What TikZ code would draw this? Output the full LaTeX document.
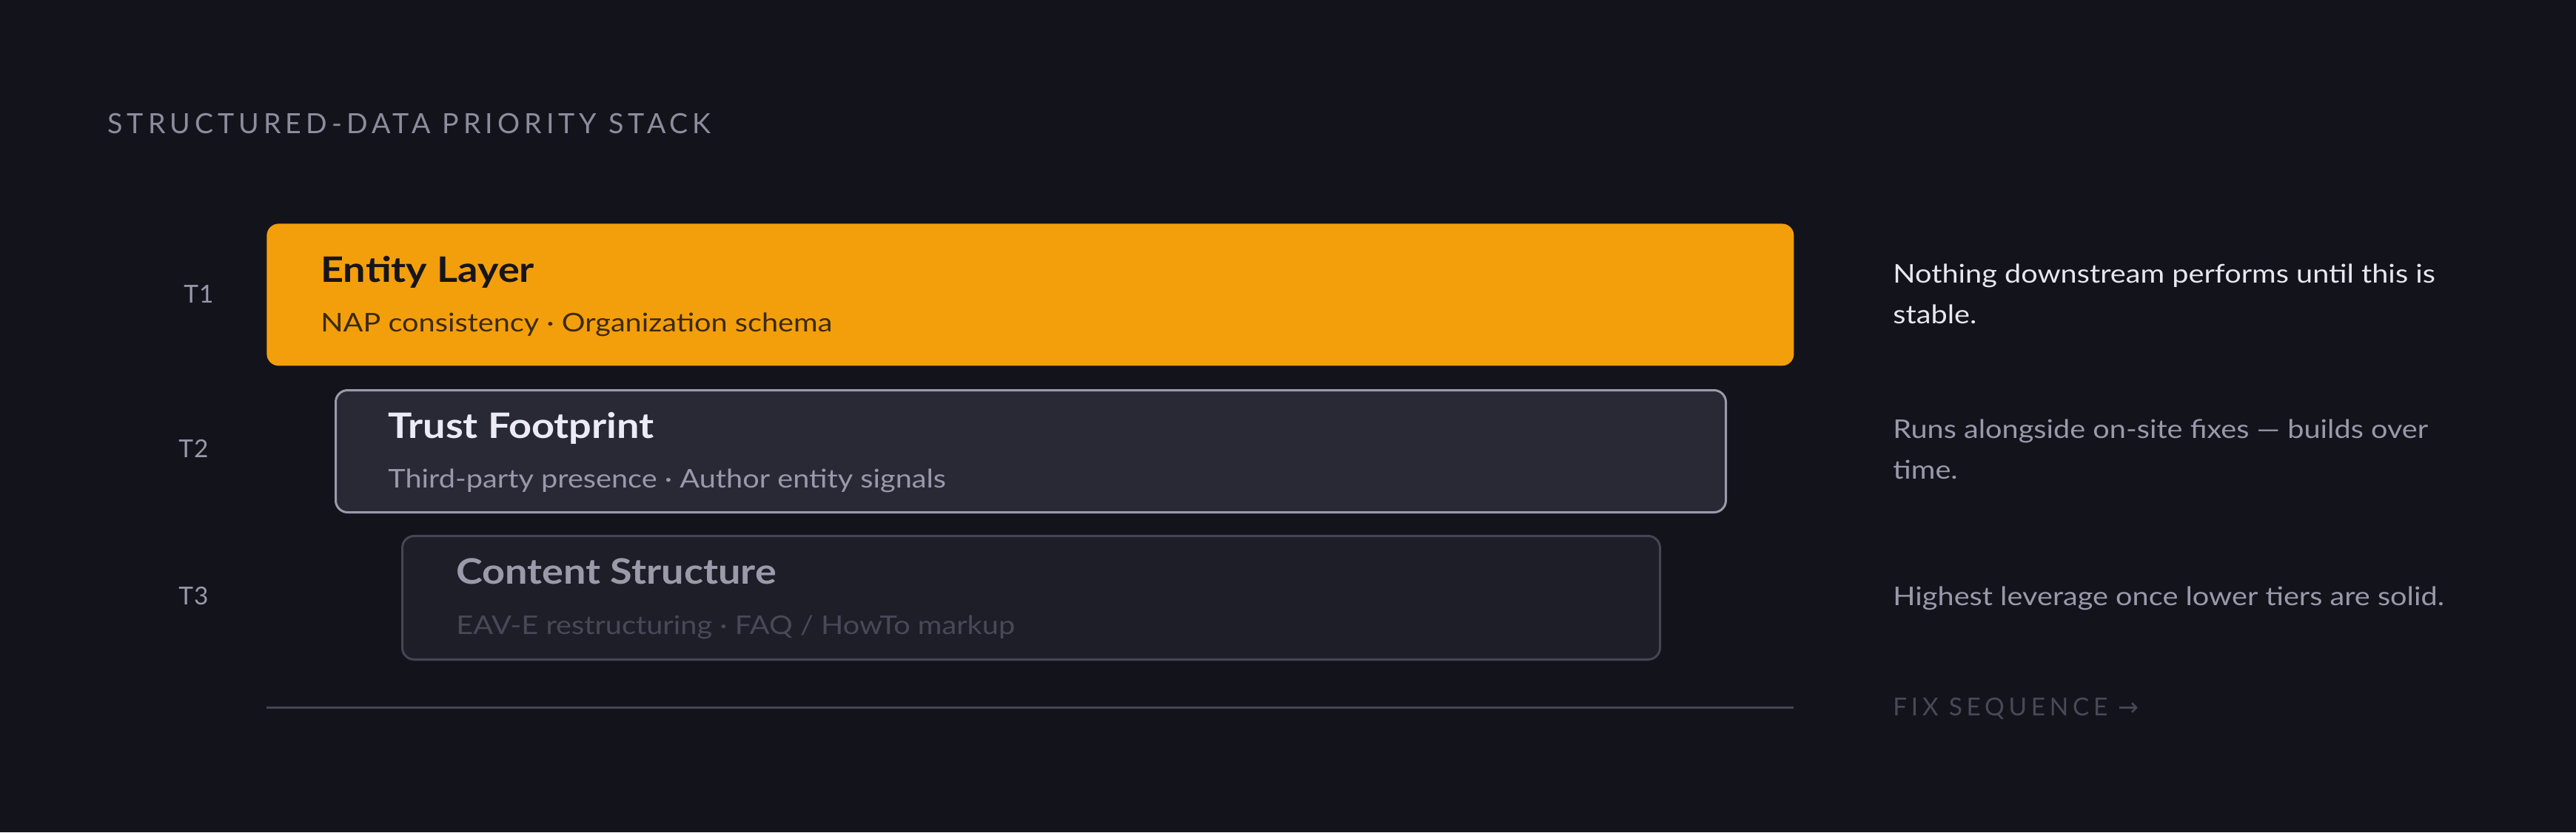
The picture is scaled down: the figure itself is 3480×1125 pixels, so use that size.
\documentclass[tikz,border=0pt]{standalone}
\usepackage{fontspec}
\setmainfont{Lato}[FakeStretch=1.14]
\newfontfamily\spacedfont{Lato}[LetterSpace=16]
\newfontfamily\fixfont{Lato}[LetterSpace=17]
\newfontfamily\tierfont{Lato}[LetterSpace=3]
\newfontfamily\symfont{DejaVu Sans}
\definecolor{bgc}{HTML}{13131C}
\definecolor{amber}{HTML}{F39F0C}
\definecolor{onamber}{HTML}{17151A}
\definecolor{onambersub}{HTML}{3B2A0E}
\definecolor{trustfill}{HTML}{292936}
\definecolor{trustline}{HTML}{9B99AA}
\definecolor{trusttitle}{HTML}{ECEBF5}
\definecolor{trustsub}{HTML}{9A98AA}
\definecolor{contfill}{HTML}{1E1E29}
\definecolor{contline}{HTML}{464555}
\definecolor{conttitle}{HTML}{9B99AA}
\definecolor{contsub}{HTML}{4A4858}
\definecolor{headc}{HTML}{8E8C9C}
\definecolor{notehi}{HTML}{E8E6F0}
\definecolor{notemid}{HTML}{9A98AA}
\definecolor{faint}{HTML}{4A4858}
\tikzset{
  tierbox/.style={rectangle, rounded corners=8pt, inner sep=0pt, anchor=north west},
  tiertitle/.style={anchor=base west, inner sep=0pt, font=\fontsize{23.7}{28}\selectfont\bfseries},
  tiersub/.style={anchor=base west, inner sep=0pt, font=\fontsize{17.4}{21}\selectfont},
  tierlabel/.style={anchor=base west, inner sep=0pt, text=notemid, font=\fontsize{16.7}{20}\tierfont},
  notetext/.style={anchor=base west, inner sep=0pt, align=left, font=\fontsize{17.4}{27.5}\selectfont},
}
\begin{document}
\begin{tikzpicture}[x=0.5pt,y=-0.5pt]
\fill[bgc] (0,0) rectangle (3480,1125);
\useasboundingbox (0,0) rectangle (3480,1125);

\node[anchor=base west, inner sep=0pt, text=headc, font=\fontsize{18.8}{22}\spacedfont] (head) at (145,180) {STRUCTURED-DATA PRIORITY STACK};

% tier boxes
\node[tierbox, fill=amber, minimum width=1031.5pt, minimum height=96pt] (t1box) at (360,302) {};
\node[tierbox, fill=trustfill, draw=trustline, line width=1.5pt, minimum width=939pt, minimum height=82.5pt] (t2box) at (452,526) {};
\node[tierbox, fill=contfill, draw=contline, line width=1.5pt, minimum width=849.5pt, minimum height=83.5pt] (t3box) at (542,723) {};

% tier labels
\node[tierlabel] (t1) at (248,409) {T1};
\node[tierlabel] (t2) at (241,618) {T2};
\node[tierlabel] (t3) at (241,817) {T3};

% texts in boxes
\node[tiertitle, text=onamber] (t1title) at (433,381) {Entity Layer};
\node[tiersub, text=onambersub] (t1sub) at (433,448) {NAP consistency · Organization schema};
\node[tiertitle, text=trusttitle] (t2title) at (524,592) {Trust Footprint};
\node[tiersub, text=trustsub] (t2sub) at (524,659) {Third-party presence · Author entity signals};
\node[tiertitle, text=conttitle] (t3title) at (616,789) {Content Structure};
\node[tiersub, text=contsub] (t3sub) at (616,857) {EAV-E restructuring · FAQ / HowTo markup};

% notes (anchor = baseline of last line)
\node[notetext, text=notehi] (n1) at (2557,437) {Nothing downstream performs until this is\\stable.};
\node[notetext, text=notemid] (n2) at (2557,647) {Runs alongside on-site fixes — builds over\\time.};
\node[notetext, text=notemid] (n3) at (2557,818) {Highest leverage once lower tiers are solid.};

% baseline axis
\coordinate (axl) at (360,956);
\coordinate (axr) at (2423,956);
\draw[contline, line width=1.5pt] (axl) -- (axr);
\node[anchor=base west, inner sep=0pt, text=faint, font=\fontsize{16.7}{20}\fixfont] (fix) at (2557,967) {FIX SEQUENCE {\symfont →}};
\end{tikzpicture}
\end{document}
